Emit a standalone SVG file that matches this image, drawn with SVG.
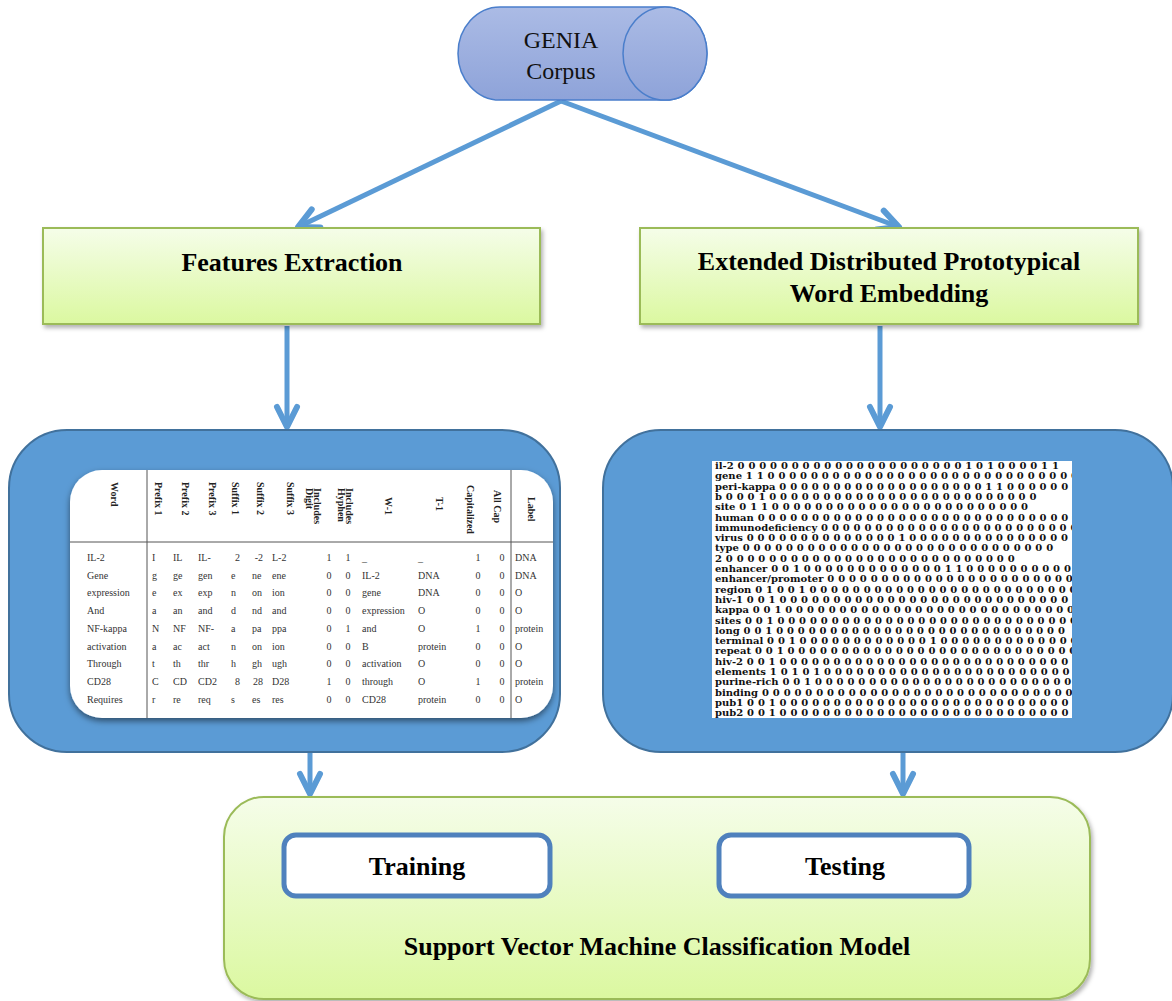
<svg xmlns="http://www.w3.org/2000/svg" width="1172" height="1001" viewBox="0 0 1172 1001">
<style>
.lbl{font-family:"Liberation Serif","Times New Roman",serif;font-weight:bold;font-size:26px;fill:#000;text-anchor:middle}
.cyl{font-family:"Liberation Serif","Times New Roman",serif;font-size:24px;fill:#111;text-anchor:middle}
.green{fill:url(#gGreen);stroke:#9bbb59;stroke-width:2}
.bluebox{fill:#5b9bd5;stroke:#41719c;stroke-width:2}
.inner{fill:#fff;stroke:#4f81bd;stroke-width:5}
.conn{stroke:#5b9bd5;stroke-width:5;fill:none;marker-end:url(#chev)}
.t{font-family:"Liberation Serif","Times New Roman",serif;font-size:10px;fill:#333}
.h{font-family:"Liberation Serif","Times New Roman",serif;font-size:10px;font-weight:bold;fill:#222}
.m{text-anchor:middle}
.e{text-anchor:end}
.emb{font-family:"DejaVu Serif",serif;font-weight:bold;font-size:10px;fill:#111;word-spacing:0.4px}
.tl{stroke:#555;stroke-width:1}
</style>
<defs>
<linearGradient id="gGreen" x1="0" y1="0" x2="0" y2="1">
<stop offset="0" stop-color="#f5fde9"/>
<stop offset="1" stop-color="#dbf8a0"/>
</linearGradient>
<linearGradient id="gCyl" x1="0" y1="0" x2="0" y2="1">
<stop offset="0" stop-color="#abbbe5"/>
<stop offset="1" stop-color="#8ea3d9"/>
</linearGradient>
<filter id="sh" x="-10%" y="-10%" width="120%" height="130%">
<feDropShadow dx="2" dy="3" stdDeviation="2" flood-color="#000" flood-opacity="0.3"/>
</filter>
<filter id="sh2" x="-10%" y="-10%" width="120%" height="130%">
<feDropShadow dx="0" dy="3" stdDeviation="3" flood-color="#000" flood-opacity="0.5"/>
</filter>
<marker id="chev" markerUnits="userSpaceOnUse" markerWidth="40" markerHeight="40" viewBox="-30 -20 40 40" refX="0" refY="0" orient="auto" overflow="visible">
<path d="M-20,-10 L0,0 L-20,10" fill="none" stroke="#5b9bd5" stroke-width="6" stroke-linecap="round" stroke-linejoin="round"/>
</marker>
<clipPath id="cardClip"><rect x="70" y="470" width="483" height="248" rx="32"/></clipPath>
<clipPath id="embClip"><rect x="712" y="461" width="360" height="257"/></clipPath>
</defs>

<g id="connectors">
<line class="conn" x1="561" y1="101" x2="298" y2="227"/>
<line class="conn" x1="561" y1="101" x2="899" y2="227"/>
<line class="conn" x1="287" y1="326" x2="287" y2="427"/>
<line class="conn" x1="880" y1="326" x2="880" y2="427"/>
<line class="conn" x1="310" y1="753" x2="310" y2="794"/>
<line class="conn" x1="903" y1="753" x2="903" y2="794"/>
</g>

<g id="genia-corpus">
<path d="M500,7 L665,7 A42,46.5 0 0 1 665,100 L500,100 A42,46.5 0 0 1 500,7 Z" fill="url(#gCyl)" stroke="#4a7ecb" stroke-width="1.5"/>
<ellipse cx="665" cy="53.5" rx="42" ry="46.5" fill="url(#gCyl)" stroke="#4a7ecb" stroke-width="1.5"/>
<text class="cyl" x="561" y="48">GENIA</text>
<text class="cyl" x="561" y="79">Corpus</text>
</g>

<g id="features-extraction">
<rect class="green" x="43" y="228" width="497" height="96" filter="url(#sh)"/>
<text class="lbl" x="292" y="271">Features Extraction</text>
</g>

<g id="edpwe">
<rect class="green" x="640" y="228" width="498" height="96" filter="url(#sh)"/>
<text class="lbl" x="889" y="270">Extended Distributed Prototypical</text>
<text class="lbl" x="889" y="302">Word Embedding</text>
</g>

<g id="feature-table-box">
<rect class="bluebox" x="9" y="430" width="551" height="322" rx="58"/>
<rect x="70" y="470" width="483" height="248" rx="32" fill="#fff" filter="url(#sh2)"/>
<g clip-path="url(#cardClip)">
<line class="tl" x1="147" y1="470" x2="147" y2="718"/>
<line class="tl" x1="511" y1="470" x2="511" y2="718"/>
<line class="tl" x1="70" y1="542" x2="553" y2="542"/>
<text class="h" transform="translate(111,482) rotate(90)">Word</text>
<text class="h" transform="translate(155,482) rotate(90)">Prefix 1</text>
<text class="h" transform="translate(182,482) rotate(90)">Prefix 2</text>
<text class="h" transform="translate(209,482) rotate(90)">Prefix 3</text>
<text class="h" transform="translate(232,482) rotate(90)">Suffix 1</text>
<text class="h" transform="translate(257,482) rotate(90)">Suffix 2</text>
<text class="h" transform="translate(287,482) rotate(90)">Suffix 3</text>
<text class="h" transform="translate(314,488) rotate(90)">Includes</text>
<text class="h" transform="translate(306,488) rotate(90)">Digit</text>
<text class="h" transform="translate(346,488) rotate(90)">Includes</text>
<text class="h" transform="translate(338,488) rotate(90)">Hyphen</text>
<text class="h" transform="translate(385,497) rotate(90)">W-1</text>
<text class="h" transform="translate(436,497) rotate(90)">T-1</text>
<text class="h" transform="translate(467,485) rotate(90)">Capitalized</text>
<text class="h" transform="translate(494,490) rotate(90)">All Cap</text>
<text class="h" transform="translate(528,497) rotate(90)">Label</text>

<g class="t">
<text x="87" y="561">IL-2</text><text x="152" y="561">I</text><text x="173" y="561">IL</text><text x="198" y="561">IL-</text><text class="e" x="240" y="561">2</text><text class="e" x="263" y="561">-2</text><text x="272" y="561">L-2</text><text class="m" x="329" y="561">1</text><text class="m" x="348" y="561">1</text><text x="362" y="561">_</text><text x="418" y="561">_</text><text class="m" x="478" y="561">1</text><text class="m" x="502" y="561">0</text><text x="515" y="561">DNA</text>
<text x="87" y="579">Gene</text><text x="152" y="579">g</text><text x="173" y="579">ge</text><text x="198" y="579">gen</text><text x="231" y="579">e</text><text x="252" y="579">ne</text><text x="272" y="579">ene</text><text class="m" x="329" y="579">0</text><text class="m" x="348" y="579">0</text><text x="362" y="579">IL-2</text><text x="418" y="579">DNA</text><text class="m" x="478" y="579">0</text><text class="m" x="502" y="579">0</text><text x="515" y="579">DNA</text>
<text x="87" y="596">expression</text><text x="152" y="596">e</text><text x="173" y="596">ex</text><text x="198" y="596">exp</text><text x="231" y="596">n</text><text x="252" y="596">on</text><text x="272" y="596">ion</text><text class="m" x="329" y="596">0</text><text class="m" x="348" y="596">0</text><text x="362" y="596">gene</text><text x="418" y="596">DNA</text><text class="m" x="478" y="596">0</text><text class="m" x="502" y="596">0</text><text x="515" y="596">O</text>
<text x="87" y="614">And</text><text x="152" y="614">a</text><text x="173" y="614">an</text><text x="198" y="614">and</text><text x="231" y="614">d</text><text x="252" y="614">nd</text><text x="272" y="614">and</text><text class="m" x="329" y="614">0</text><text class="m" x="348" y="614">0</text><text x="362" y="614">expression</text><text x="418" y="614">O</text><text class="m" x="478" y="614">0</text><text class="m" x="502" y="614">0</text><text x="515" y="614">O</text>
<text x="87" y="632">NF-kappa</text><text x="152" y="632">N</text><text x="173" y="632">NF</text><text x="198" y="632">NF-</text><text x="231" y="632">a</text><text x="252" y="632">pa</text><text x="272" y="632">ppa</text><text class="m" x="329" y="632">0</text><text class="m" x="348" y="632">1</text><text x="362" y="632">and</text><text x="418" y="632">O</text><text class="m" x="478" y="632">1</text><text class="m" x="502" y="632">0</text><text x="515" y="632">protein</text>
<text x="87" y="650">activation</text><text x="152" y="650">a</text><text x="173" y="650">ac</text><text x="198" y="650">act</text><text x="231" y="650">n</text><text x="252" y="650">on</text><text x="272" y="650">ion</text><text class="m" x="329" y="650">0</text><text class="m" x="348" y="650">0</text><text x="362" y="650">B</text><text x="418" y="650">protein</text><text class="m" x="478" y="650">0</text><text class="m" x="502" y="650">0</text><text x="515" y="650">O</text>
<text x="87" y="667">Through</text><text x="152" y="667">t</text><text x="173" y="667">th</text><text x="198" y="667">thr</text><text x="231" y="667">h</text><text x="252" y="667">gh</text><text x="272" y="667">ugh</text><text class="m" x="329" y="667">0</text><text class="m" x="348" y="667">0</text><text x="362" y="667">activation</text><text x="418" y="667">O</text><text class="m" x="478" y="667">0</text><text class="m" x="502" y="667">0</text><text x="515" y="667">O</text>
<text x="87" y="685">CD28</text><text x="152" y="685">C</text><text x="173" y="685">CD</text><text x="198" y="685">CD2</text><text class="e" x="240" y="685">8</text><text class="e" x="263" y="685">28</text><text x="272" y="685">D28</text><text class="m" x="329" y="685">1</text><text class="m" x="348" y="685">0</text><text x="362" y="685">through</text><text x="418" y="685">O</text><text class="m" x="478" y="685">1</text><text class="m" x="502" y="685">0</text><text x="515" y="685">protein</text>
<text x="87" y="703">Requires</text><text x="152" y="703">r</text><text x="173" y="703">re</text><text x="198" y="703">req</text><text x="231" y="703">s</text><text x="252" y="703">es</text><text x="272" y="703">res</text><text class="m" x="329" y="703">0</text><text class="m" x="348" y="703">0</text><text x="362" y="703">CD28</text><text x="418" y="703">protein</text><text class="m" x="478" y="703">0</text><text class="m" x="502" y="703">0</text><text x="515" y="703">O</text>
</g>
</g>
</g>

<g id="embedding-box">
<rect class="bluebox" x="603" y="430" width="570" height="322" rx="58"/>
<rect x="712" y="461" width="360" height="257" fill="#fff"/>
<g clip-path="url(#embClip)" class="emb">
<text x="715" y="469">il-2 0 0 0 0 0 0 0 0 0 0 0 0 0 0 0 0 0 0 0 0 0 1 0 1 0 0 0 0 1 1</text>
<text x="715" y="479.3">gene 1 1 0 0 0 0 0 0 0 0 0 0 0 0 0 0 0 0 0 0 0 0 0 0 0 0 0 0 0 0 0 0 0</text>
<text x="715" y="489.6">peri-kappa 0 0 0 0 0 0 0 0 0 0 0 0 0 0 0 0 0 0 0 1 1 0 0 0 0 0 0 0 0 0</text>
<text x="715" y="499.9">b 0 0 0 1 0 0 0 0 0 0 0 0 0 0 0 0 0 0 0 0 0 0 0 0 0 0 0 0 0</text>
<text x="715" y="510.2">site 0 1 1 0 0 0 0 0 0 0 0 0 0 0 0 0 0 0 0 0 0 0 0 0 0 0 0</text>
<text x="715" y="520.5">human 0 0 0 0 0 0 0 0 0 0 0 0 0 0 0 0 0 0 0 0 0 0 0 0 0 0 0 0 0 0</text>
<text x="715" y="530.8">immunodeficiency 0 0 0 0 0 0 0 0 0 0 0 0 0 0 0 0 0 0 0 0 0 0 0 0 1</text>
<text x="715" y="541.1">virus 0 0 0 0 0 0 0 0 0 0 0 0 0 0 1 0 0 0 0 0 0 0 0 0 0 0 0 0 0 0</text>
<text x="715" y="551.4">type 0 0 0 0 0 0 0 0 0 0 0 0 0 0 0 0 0 0 0 0 0 0 0 0 0 0 0 0 0</text>
<text x="715" y="561.7">2 0 0 0 0 0 0 0 0 0 0 0 0 0 0 0 0 0 0 0 0 0 0 0 0 0 0 0</text>
<text x="715" y="572">enhancer 0 0 1 0 0 0 0 0 0 0 0 0 0 0 0 0 1 1 0 0 0 0 0 0 0 0 0 0</text>
<text x="715" y="582.3">enhancer/promoter 0 0 0 0 0 0 0 0 0 0 0 0 0 0 0 0 0 0 0 0 0 0 0 0 0 0</text>
<text x="715" y="592.6">region 0 1 0 0 1 0 0 0 0 0 0 0 0 0 0 0 0 0 0 0 0 0 0 0 0 0 0 0 0 0 0</text>
<text x="715" y="602.9">hiv-1 0 0 1 0 0 0 0 0 0 0 0 0 0 0 0 0 0 0 0 0 0 0 0 0 0 0 0 0 0 0 0 0</text>
<text x="715" y="613.2">kappa 0 0 1 0 0 0 0 0 0 0 0 0 0 0 0 0 0 0 0 0 0 0 0 0 0 0 0 0 0 0 0</text>
<text x="715" y="623.5">sites 0 0 1 0 0 0 0 0 0 0 0 0 0 0 0 0 0 0 0 0 0 0 0 0 0 0 0 0 0 0 0</text>
<text x="715" y="633.8">long 0 0 1 0 0 0 0 0 0 0 0 0 0 0 0 0 0 0 0 0 0 0 0 0 0 0 0 0 0 0</text>
<text x="715" y="644.1">terminal 0 0 1 0 0 0 0 0 0 0 0 0 0 0 0 1 0 0 0 0 0 0 0 0 0 0 0 0 0</text>
<text x="715" y="654.4">repeat 0 0 1 0 0 0 0 0 0 0 0 0 0 0 0 0 0 0 0 0 0 0 0 0 0 0 0 0 0 0</text>
<text x="715" y="664.7">hiv-2 0 0 1 0 0 0 0 0 0 0 0 0 0 0 0 0 0 0 0 0 0 0 0 0 0 0 0 0 0 0 0 0</text>
<text x="715" y="675">elements 1 0 1 0 1 0 0 0 0 0 0 0 0 0 0 0 0 0 0 0 0 0 0 0 0 0 0 0 0</text>
<text x="715" y="685.3">purine-rich 0 0 1 0 0 0 0 0 0 0 0 0 0 0 0 0 0 0 0 0 0 0 0 0 0 0 0</text>
<text x="715" y="695.6">binding 0 0 0 0 0 0 0 0 0 0 0 0 0 0 0 0 0 0 0 0 0 0 0 0 0 0 0 0 0 0</text>
<text x="715" y="705.9">pub1 0 0 1 0 0 0 0 0 0 0 0 0 0 0 0 0 0 0 0 0 0 0 0 0 0 0 0 0 0 0 0</text>
<text x="715" y="716.2">pub2 0 0 1 0 0 0 0 0 0 0 0 0 0 0 0 0 0 0 0 0 0 0 0 0 0 0 0 0 0 0 0</text>
</g>
</g>

<g id="svm-model">
<rect class="green" x="224" y="797" width="866" height="202" rx="40" filter="url(#sh)"/>
<text class="lbl" x="657" y="955">Support Vector Machine Classification Model</text>
</g>
<g id="training">
<rect class="inner" x="284" y="835" width="266" height="61" rx="12"/>
<text class="lbl" x="417" y="875">Training</text>
</g>
<g id="testing">
<rect class="inner" x="719" y="835" width="250" height="61" rx="12"/>
<text class="lbl" x="845" y="875">Testing</text>
</g>
</svg>
